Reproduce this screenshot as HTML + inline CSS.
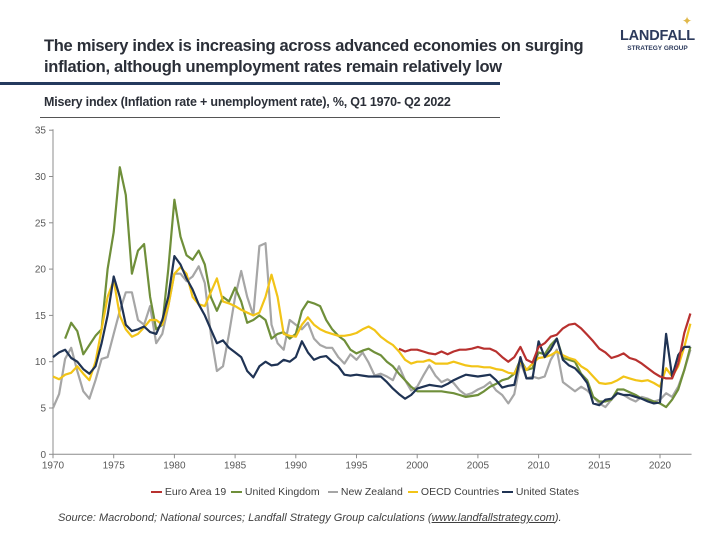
<!DOCTYPE html>
<html><head><meta charset="utf-8"><style>
body{margin:0;background:#fff;width:720px;height:540px;overflow:hidden;font-family:"Liberation Sans",sans-serif;position:relative}
.abs{position:absolute;white-space:nowrap}
</style></head><body>
<div class="abs" style="left:44px;top:36px;font-size:16.5px;font-weight:bold;color:#2b2f38;line-height:21px;letter-spacing:-0.3px">The misery index is increasing across advanced economies on surging<br>inflation, although unemployment rates remain relatively low</div>
<div class="abs" style="left:0;top:82px;width:500px;height:3px;background:#243a5e"></div>
<div class="abs" style="left:620px;top:28px;text-align:center;color:#2c3a5c">
<div style="font-size:14.5px;font-weight:bold;letter-spacing:-0.2px">LANDFALL</div>
<div style="font-size:6.5px;font-weight:bold;margin-top:1px">STRATEGY GROUP</div></div>
<div class="abs" style="left:682px;top:14px;color:#e0b84a;font-size:12px">✦</div>
<div class="abs" style="left:44px;top:95px;font-size:12.5px;font-weight:bold;color:#2b2f38;letter-spacing:-0.2px">Misery index (Inflation rate + unemployment rate), %, Q1 1970- Q2 2022</div>
<div class="abs" style="left:40px;top:117px;width:460px;height:1px;background:#555"></div>
<svg id="chart" width="720" height="540" style="position:absolute;left:0;top:0"></svg>
<div class="abs" style="left:0;top:486px;font-size:10.5px;color:#404040">
<span class="abs" style="left:151px;top:0"><span style="display:inline-block;width:11px;height:2px;background:#b8312f;vertical-align:middle"></span> Euro Area 19</span>
<span class="abs" style="left:231px;top:0"><span style="display:inline-block;width:11px;height:2px;background:#6f8f3a;vertical-align:middle"></span> United Kingdom</span>
<span class="abs" style="left:328px;top:0"><span style="display:inline-block;width:10px;height:2px;background:#a6a6a6;vertical-align:middle"></span> New Zealand</span>
<span class="abs" style="left:408px;top:0"><span style="display:inline-block;width:10px;height:2px;background:#f2c417;vertical-align:middle"></span> OECD Countries</span>
<span class="abs" style="left:502px;top:0"><span style="display:inline-block;width:11px;height:2px;background:#1f3354;vertical-align:middle"></span> United States</span>
</div>
<div class="abs" style="left:58px;top:512px;font-size:11px;font-style:italic;color:#404040">Source: Macrobond; National sources; Landfall Strategy Group calculations (<u>www.landfallstrategy.com</u>).</div>
<script>
const years=[1970,1970.5,1971,1971.5,1972,1972.5,1973,1973.5,1974,1974.5,1975,1975.5,1976,1976.5,1977,1977.5,1978,1978.5,1979,1979.5,1980,1980.5,1981,1981.5,1982,1982.5,1983,1983.5,1984,1984.5,1985,1985.5,1986,1986.5,1987,1987.5,1988,1988.5,1989,1989.5,1990,1990.5,1991,1991.5,1992,1992.5,1993,1993.5,1994,1994.5,1995,1995.5,1996,1996.5,1997,1997.5,1998,1998.5,1999,1999.5,2000,2000.5,2001,2001.5,2002,2002.5,2003,2003.5,2004,2004.5,2005,2005.5,2006,2006.5,2007,2007.5,2008,2008.5,2009,2009.5,2010,2010.5,2011,2011.5,2012,2012.5,2013,2013.5,2014,2014.5,2015,2015.5,2016,2016.5,2017,2017.5,2018,2018.5,2019,2019.5,2020,2020.5,2021,2021.5,2022,2022.5];
const usValues=[10.5,11,11.3,10.4,10,9.2,8.7,9.5,12,15,19.2,17,14,13.3,13.5,13.8,13.2,13,14.5,17,21.4,20.5,19,17.8,16.2,15,13.5,12,12.3,11.5,11,10.5,9,8.3,9.5,10,9.6,9.7,10.2,10,10.5,12.2,11,10.2,10.5,10.6,10,9.5,8.6,8.5,8.6,8.5,8.4,8.4,8.4,7.8,7.1,6.5,6.0,6.4,7.1,7.3,7.5,7.4,7.3,7.6,8,8.3,8.6,8.5,8.4,8.5,8.6,8,7.2,7.4,7.5,10.5,8.2,8.2,12.2,10.5,11.3,12.5,10.2,9.6,9.3,8.6,7.7,5.5,5.3,5.9,6.0,6.6,6.4,6.4,6.2,6.0,5.7,5.5,5.6,13.0,8.4,10.7,11.6,11.6];
const ukValues=[null,null,12.5,14.2,13.3,10.8,11.8,12.8,13.5,20,24,31,28,19.5,22,22.7,17,13.5,14,20,27.5,23.5,21.5,21,22,20.5,17,15.5,17,16.5,18,16.5,14.2,14.5,15,14.5,12.5,13,13.2,12.5,13,15.5,16.5,16.3,16,14.5,13.5,12.8,12.3,11.3,10.9,11.2,11.4,11,10.7,10,9.5,8.7,8.0,7.3,6.8,6.8,6.8,6.8,6.8,6.7,6.6,6.4,6.2,6.3,6.4,6.8,7.3,7.6,8.0,8.2,8.7,10.2,9.1,9.3,11,10.8,11.8,12.5,10.4,10.2,10,8.7,8,6.2,5.7,5.7,5.9,7,7,6.7,6.4,6.0,5.9,5.7,5.5,5.1,5.9,7,9.1,11.6];
const nzValues=[5,6.5,10.3,11.5,9,6.8,6,8,10.3,10.5,13,15.5,17.5,17.5,14.5,14,16,12,13,16,19.5,19.5,18.7,19.2,20.3,18.5,13,9,9.5,13,17,19.8,17,15,22.5,22.8,14,12,11.3,14.5,14,13.5,14.2,12.5,11.8,11.5,11.5,10.5,9.8,10.8,10.2,11,9.9,8.5,8.7,8.4,8,9.5,8,6.9,7.3,8.5,9.6,8.5,7.8,8.1,7.7,6.9,6.4,6.6,7,7.3,7.8,6.9,6.4,5.5,6.5,10,8.2,8.4,8.2,8.4,10.2,11.3,7.8,7.3,6.8,7.3,6.9,6.2,5.5,5.1,5.9,6.6,6.4,6.0,5.7,6.2,6.0,5.7,5.9,6.6,6.2,7.3,9.1,11.3];
const oecdValues=[8.4,8.1,8.6,8.8,9.5,8.7,8,10,13.5,17,18.8,15,13.5,12.7,13,13.7,14.5,14.5,14,16,19.5,20.2,19.5,17,16.2,16,17.5,19,16.5,16.3,16,15.6,15.3,15,15.3,17,19.4,17,13,12.8,12.7,14,14.8,14,13.5,13.2,13,12.8,12.8,12.9,13.1,13.5,13.8,13.4,12.7,12.2,11.8,11.1,10.2,9.8,10,10,10.2,9.8,9.8,9.8,10,9.8,9.6,9.5,9.5,9.4,9.4,9.2,9.1,8.8,8.7,10,9.1,9.8,10.4,10.5,10.7,11.1,10.7,10.4,10.2,9.5,9.1,8.4,7.7,7.6,7.7,8,8.4,8.2,8,7.9,8,7.7,7.3,9.3,8.4,9.5,11.6,14.1];
const euroValues=Array(57).fill(null).concat([11.4,11.1,11.3,11.3,11.1,10.9,10.8,11.1,10.8,11.1,11.3,11.3,11.4,11.6,11.4,11.4,11.1,10.5,10,10.5,11.6,10.2,9.9,11.6,12,12.7,12.9,13.6,14,14.1,13.6,12.9,12.2,11.4,11,10.4,10.6,10.9,10.4,10.2,9.8,9.3,8.8,8.4,8.2,8.2,9.8,13.1,15.2]);
const yTicks=[0,5,10,15,20,25,30,35];
const xTicks=[1970,1975,1980,1985,1990,1995,2000,2005,2010,2015,2020];
const X0=53,Y0=454.3,PXY=12.14,PXV=9.26;
const xs=y=>X0+(y-1970)*PXY, ys=v=>Y0-v*PXV;
const svg=document.getElementById('chart'),NS='http://www.w3.org/2000/svg';
function mk(t,a){const e=document.createElementNS(NS,t);for(const k in a)e.setAttribute(k,a[k]);svg.appendChild(e);return e;}
let ax=mk('line',{x1:X0,y1:ys(35)-1,x2:X0,y2:Y0,stroke:'#8c8c8c','stroke-width':1});


let bx=mk('line',{x1:X0,y1:Y0,x2:xs(2022.6),y2:Y0,stroke:'#8c8c8c','stroke-width':1});


yTicks.forEach(v=>{mk('line',{x1:X0-4,x2:X0,y1:ys(v),y2:ys(v),stroke:'#8c8c8c'});
const t=mk('text',{x:X0-7,y:ys(v)+3.5,'text-anchor':'end','font-size':10,fill:'#595959','font-family':'Liberation Sans, sans-serif'});t.textContent=v;

});
xTicks.forEach(y=>{mk('line',{x1:xs(y),x2:xs(y),y1:Y0,y2:Y0+4,stroke:'#8c8c8c'});
const t=mk('text',{x:xs(y),y:Y0+14,'text-anchor':'middle','font-size':10,fill:'#595959','font-family':'Liberation Sans, sans-serif'});t.textContent=y;

});
function line(vals,color,name){let d='',pen=false;vals.forEach((v,i)=>{if(v==null){pen=false;return;}d+=(pen?'L':'M')+xs(years[i]).toFixed(1)+' '+ys(v).toFixed(1);pen=true;});
const p=mk('path',{d:d,fill:'none',stroke:color,'stroke-width':2.2,'stroke-linejoin':'round'});

}
line(nzValues,'#a6a6a6','series-new-zealand');
line(ukValues,'#6f8f3a','series-united-kingdom');
line(oecdValues,'#f2c417','series-oecd');
line(usValues,'#1f3354','series-united-states');
line(euroValues,'#b8312f','series-euro-area');
</script>
</body></html>
